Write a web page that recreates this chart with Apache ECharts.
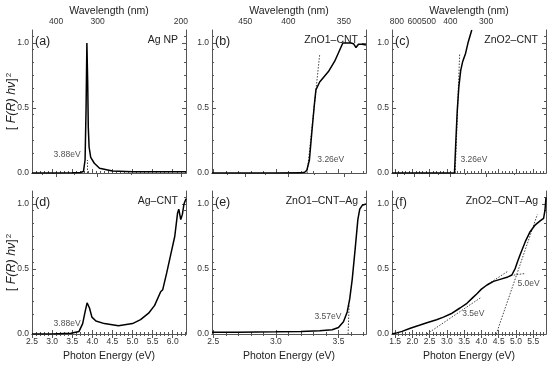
<!DOCTYPE html>
<html><head><meta charset="utf-8">
<script src="https://cdn.jsdelivr.net/npm/echarts@6/dist/echarts.min.js"></script>
<style>html,body{margin:0;padding:0;background:#fff}#c{width:550px;height:366px}</style>
</head><body><div id="c"></div>
<script>
// ---------- data (photon energy eV, [F(R) hv]^2 normalised) ----------
const agNP = [[2.5,0],[3.0,0],[3.5,0.002],[3.7,0.004],[3.78,0.012],[3.82,0.1],[3.845,0.5],[3.865,1.0],[3.885,0.7],[3.9,0.35],[3.92,0.2],[3.96,0.12],[4.05,0.075],[4.18,0.036],[4.5,0.015],[5.0,0.01],[5.5,0.009],[6.0,0.009],[6.33,0.009]];
const agNPTan = [[3.88,0],[3.88,0.1]];
const zno1 = [[2.49,0],[3.0,0],[3.2,0.001],[3.23,0.006],[3.247,0.02],[3.268,0.1],[3.287,0.31],[3.306,0.51],[3.32,0.64],[3.35,0.70],[3.42,0.78],[3.47,0.86],[3.535,1.0],[3.6,1.0],[3.62,0.995],[3.64,0.965],[3.66,0.99],[3.69,0.99],[3.72,0.985]];
const zno1Tan = [[3.25,0],[3.35,0.91]];
const zno2 = [[1.41,0],[3.0,0],[3.22,0],[3.26,0.25],[3.3,0.48],[3.345,0.66],[3.4,0.79],[3.46,0.86],[3.54,0.92],[3.62,1.01],[3.72,1.1]];
const zno2Tan = [[3.24,0],[3.37,0.92]];
const agCNT = [[2.5,0],[3.0,0],[3.47,0.005],[3.67,0.02],[3.76,0.08],[3.82,0.17],[3.87,0.24],[3.93,0.2],[3.99,0.13],[4.09,0.10],[4.3,0.08],[4.65,0.064],[5.0,0.08],[5.2,0.11],[5.4,0.16],[5.55,0.22],[5.7,0.325],[5.75,0.34],[5.85,0.47],[5.95,0.61],[6.05,0.75],[6.12,0.93],[6.15,0.96],[6.2,0.88],[6.24,0.92],[6.28,1.0],[6.33,1.04]];
const zno1Ag = [[2.49,0.013],[2.7,0.014],[3.0,0.017],[3.2,0.02],[3.35,0.025],[3.45,0.033],[3.5,0.05],[3.54,0.095],[3.57,0.17],[3.59,0.27],[3.61,0.42],[3.635,0.67],[3.655,0.88],[3.67,0.96],[3.69,0.99],[3.72,1.0]];
const zno1AgTan = [[3.577,0],[3.585,0.22]];
const zno2Ag = [[1.41,0],[1.5,0.005],[1.7,0.02],[1.94,0.044],[2.2,0.067],[2.42,0.087],[2.7,0.11],[2.9,0.13],[3.15,0.16],[3.38,0.2],[3.58,0.236],[3.75,0.28],[3.87,0.31],[4.0,0.345],[4.16,0.377],[4.35,0.405],[4.54,0.42],[4.74,0.436],[4.88,0.454],[4.98,0.505],[5.05,0.56],[5.12,0.61],[5.27,0.71],[5.41,0.787],[5.56,0.84],[5.7,0.87],[5.8,0.89],[5.84,0.95],[5.87,1.05]];
const zno2AgTan1 = [[2.42,0],[3.98,0.28]];
const zno2AgTan2 = [[4.2,0.385],[4.75,0.48]];
const zno2AgTan3 = [[4.85,0.45],[5.25,0.465]];
const zno2AgTan4 = [[4.43,0],[5.62,0.92]];

// tick labels
const eTicksAD = [2.5,3.0,3.5,4.0,4.5,5.0,5.5,6.0];
const eTicksBE = [2.5,3.0,3.5];
const eTicksCF = [1.5,2.0,2.5,3.0,3.5,4.0,4.5,5.0,5.5];
const wlTicksA = [400,300,200];
const wlTicksB = [450,400,350];
const wlTicksC = [800,600,500,400,300];
const wlMinorA = [450,350,250];
const wlMinorB = [475,425,375];
const wlMinorC = [700,450,350,250];
const yTicks = [0,0.5,1.0];
const yTickLabels = ['0.0','0.5','1.0'];

// annotations [x, y, text, side]
const notesA = [[3.72,0.138,'3.88eV','left']];
const notesB = [[3.327,0.1,'3.26eV','right']];
const notesC = [[3.38,0.1,'3.26eV','right']];
const notesD = [[3.72,0.077,'3.88eV','left']];
const notesE = [[3.527,0.133,'3.57eV','left']];
const notesF = [[3.43,0.16,'3.5eV','right'],[5.03,0.39,'5.0eV','right']];

// ---------- layout ----------
const HC = 1240;
const panels = [
  {g:{left:32,top:30,width:154,height:143}, min:2.5, max:6.33, e:eTicksAD, wl:wlTicksA, wlm:wlMinorA, top:true, first:true, letter:'(a)', name:'Ag NP', curve:agNP, tans:[agNPTan], notes:notesA},
  {g:{left:212,top:30,width:154,height:143}, min:2.49, max:3.72, e:eTicksBE, wl:wlTicksB, wlm:wlMinorB, top:true, letter:'(b)', name:'ZnO1\u2013CNT', curve:zno1, tans:[zno1Tan], notes:notesB},
  {g:{left:392,top:30,width:154,height:143}, min:1.41, max:5.87, e:eTicksCF, wl:wlTicksC, wlm:wlMinorC, top:true, letter:'(c)', name:'ZnO2\u2013CNT', curve:zno2, tans:[zno2Tan], notes:notesC},
  {g:{left:32,top:191,width:154,height:143}, min:2.5, max:6.33, e:eTicksAD, top:false, first:true, letter:'(d)', name:'Ag\u2013CNT', curve:agCNT, tans:[], notes:notesD},
  {g:{left:212,top:191,width:154,height:143}, min:2.49, max:3.72, e:eTicksBE, top:false, letter:'(e)', name:'ZnO1\u2013CNT\u2013Ag', curve:zno1Ag, tans:[zno1AgTan], notes:notesE},
  {g:{left:392,top:191,width:154,height:143}, min:1.41, max:5.87, e:eTicksCF, top:false, letter:'(f)', name:'ZnO2\u2013CNT\u2013Ag', curve:zno2Ag, tans:[zno2AgTan1,zno2AgTan2,zno2AgTan3,zno2AgTan4], notes:notesF}
];

const AX = '#555', TXT = '#222', FONT = 'Liberation Sans, Arial, sans-serif';
function minorSteps(min, max, step){const r=[];for(let v=Math.ceil(min/step-1e-6)*step; v<=max+1e-9; v+=step){r.push(+v.toFixed(4));}return r;}

const grid=[], xAxis=[], yAxis=[], series=[], graphic=[];
panels.forEach((p,i)=>{
  grid.push(Object.assign({containLabel:false}, p.g));
  const eMinor = minorSteps(p.min, p.max, 0.1);
  const base = {type:'value', gridIndex:i, min:p.min, max:p.max, splitLine:{show:false}, axisPointer:{show:false}, nameMoveOverlap:false};
  // bottom major
  xAxis.push(Object.assign({}, base, {position:'bottom',
    axisLine:{show:true, lineStyle:{color:AX,width:1}},
    axisTick:{show:true, inside:true, length:4, customValues:p.e, lineStyle:{color:AX}},
    axisLabel:{show:!p.top, customValues:p.e, formatter:v=>v.toFixed(1), fontSize:8.5, color:'#333', fontFamily:FONT, margin:3},
    name: p.top? '' : 'Photon Energy (eV)', nameLocation:'middle', nameGap:17,
    nameTextStyle:{fontSize:10.5, color:TXT, fontFamily:FONT}}));
  // bottom minor
  xAxis.push(Object.assign({}, base, {position:'bottom', axisLine:{show:false},
    axisTick:{show:true, inside:true, length:2, customValues:eMinor, lineStyle:{color:AX}}, axisLabel:{show:false}}));
  // top major
  const topVals = p.top ? p.wl.map(w=>HC/w) : p.e;
  xAxis.push(Object.assign({}, base, {position:'top',
    axisLine:{show:true, lineStyle:{color:AX,width:1}},
    axisTick:{show:true, inside:true, length:4, customValues:topVals, lineStyle:{color:AX}},
    axisLabel:{show:p.top, customValues:topVals, formatter:v=>String(Math.round(HC/v)), fontSize:8.5, color:'#333', fontFamily:FONT, margin:4},
    name: p.top? 'Wavelength (nm)' : '', nameLocation:'middle', nameGap:13,
    nameTextStyle:{fontSize:10.5, color:TXT, fontFamily:FONT}}));
  // top minor
  const topMinor = p.top ? p.wlm.map(w=>HC/w).filter(v=>v>p.min&&v<p.max) : eMinor;
  xAxis.push(Object.assign({}, base, {position:'top', axisLine:{show:false},
    axisTick:{show:true, inside:true, length:2, customValues:topMinor, lineStyle:{color:AX}}, axisLabel:{show:false}}));

  const ybase = {type:'value', gridIndex:i, min:0, max:1.1, splitLine:{show:false}, axisPointer:{show:false}, nameMoveOverlap:false};
  const yMinor = minorSteps(0.05,1.05,0.1).map(v=>+(v+0.05).toFixed(2)).filter(v=>v<1.1 && Math.abs(v-0.5)>1e-6 && Math.abs(v-1)>1e-6);
  yAxis.push(Object.assign({}, ybase, {position:'left',
    axisLine:{show:true, lineStyle:{color:AX,width:1}},
    axisTick:{show:true, inside:true, length:4, customValues:yTicks, lineStyle:{color:AX}},
    axisLabel:{show:true, customValues:yTicks, formatter:v=>yTickLabels[yTicks.indexOf(Math.round(v*10)/10)] || v.toFixed(1), fontSize:8.5, color:'#333', fontFamily:FONT, margin:3},
    name: p.first ? '{n|[ }{i|F(R) h\u03BD}{n|]}{s|2}' : '', nameLocation:'middle', nameGap:13, nameRotate:90,
    nameTextStyle:{color:TXT, fontFamily:FONT, rich:{
      n:{fontSize:12.5, color:TXT, fontFamily:FONT},
      i:{fontSize:12.5, color:TXT, fontFamily:FONT, fontStyle:'italic'},
      s:{fontSize:8, color:TXT, fontFamily:FONT, verticalAlign:'top', padding:[0,0,6,1]}}}}));
  yAxis.push(Object.assign({}, ybase, {position:'left', axisLine:{show:false},
    axisTick:{show:true, inside:true, length:2, customValues:yMinor, lineStyle:{color:AX}}, axisLabel:{show:false}}));
  yAxis.push(Object.assign({}, ybase, {position:'right',
    axisLine:{show:true, lineStyle:{color:AX,width:1}},
    axisTick:{show:true, inside:true, length:4, customValues:yTicks, lineStyle:{color:AX}}, axisLabel:{show:false}}));
  yAxis.push(Object.assign({}, ybase, {position:'right', axisLine:{show:false},
    axisTick:{show:true, inside:true, length:2, customValues:yMinor, lineStyle:{color:AX}}, axisLabel:{show:false}}));

  const xi = i*4, yi = i*4;
  p.tans.forEach(t=>series.push({type:'line', xAxisIndex:xi, yAxisIndex:yi, data:t, showSymbol:false, silent:true,
    lineStyle:{color:'#444', width:1, type:[1.5,1.5]}, z:1}));
  series.push({type:'line', xAxisIndex:xi, yAxisIndex:yi, data:p.curve, showSymbol:false, silent:true,
    lineStyle:{color:'#000', width:1.5}, z:3});
  series.push({type:'scatter', xAxisIndex:xi, yAxisIndex:yi, silent:true, symbolSize:1, itemStyle:{color:'rgba(0,0,0,0)'},
    data:p.notes.map(n=>({value:[n[0],n[1]], label:{show:true, formatter:n[2], position:n[3], distance:0, fontSize:8.5, color:TXT, fontFamily:FONT}})), z:4});

  graphic.push({type:'text', left:p.g.left+3, top:p.g.top+5, silent:true,
    style:{text:p.letter, fontSize:12.5, fill:TXT, fontFamily:FONT}});
  graphic.push({type:'text', right:550-(p.g.left+p.g.width-8), top:p.g.top+5, silent:true,
    style:{text:p.name, fontSize:10.5, fill:TXT, fontFamily:FONT}});
});

const chart = echarts.init(document.getElementById('c'), null, {renderer:'canvas'});
chart.setOption({animation:false, backgroundColor:'#fff', grid, xAxis, yAxis, series, graphic});
</script></body></html>
